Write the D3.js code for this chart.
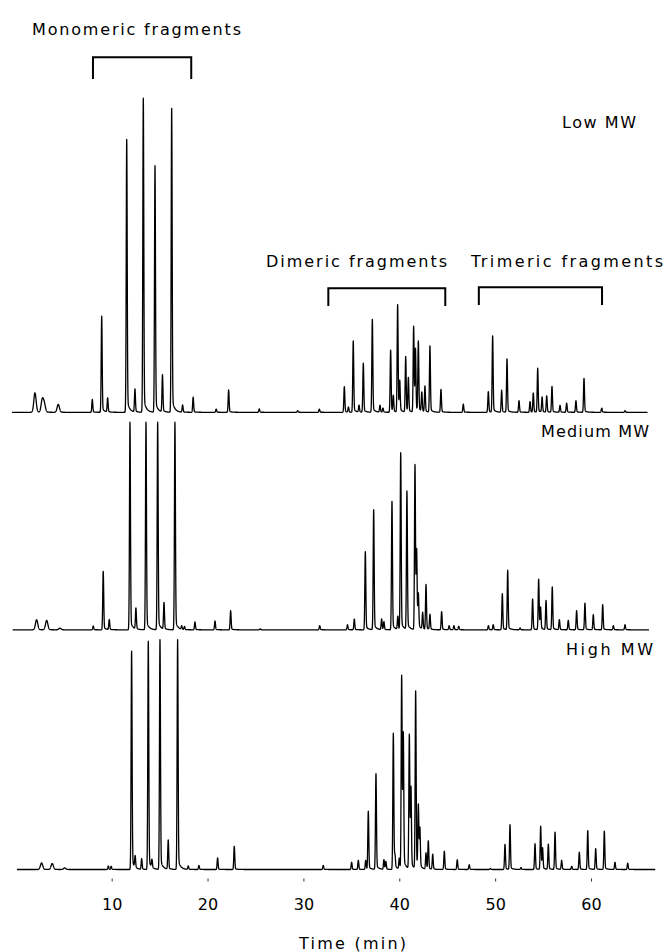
<!DOCTYPE html>
<html>
<head>
<meta charset="utf-8">
<script src="https://cdn.jsdelivr.net/npm/d3@7"></script>
<style>
  body { margin: 0; background: #fff; }
  text { font-family: "DejaVu Sans", sans-serif; fill: #000; }
</style>
</head>
<body>
<script>
//chromatogram peaks: retention time (min) and relative height (% of tallest)
var lowTimes = [2.0, 2.76, 2.97, 4.43, 7.98, 8.96, 9.58, 11.57, 12.43, 13.3, 14.52, 15.3, 16.26, 17.4, 18.5,
    20.9, 22.2, 25.4, 29.4, 31.66, 34.27, 34.7, 35.2, 35.8, 36.25, 37.19, 37.99, 38.3, 39.1, 39.38, 39.83,
    40.05, 40.67, 40.95, 41.5, 41.69, 41.99, 42.35, 42.68, 43.2, 44.35, 46.68, 49.29, 49.74, 50.68, 51.24,
    52.49, 53.64, 53.98, 54.44, 54.9, 55.38, 55.93, 56.77, 57.46, 58.43, 59.27, 61.12, 63.55];
var lowHeights = [6.2, 3.9, 2.6, 2.5, 4.1, 30.6, 4.5, 86.9, 7.3, 100, 78.5, 11.8, 96.8, 2.3, 4.8,
    1.0, 7.1, 1.1, 0.5, 1.0, 8.2, 1.6, 22.7, 2.2, 15.6, 29.6, 2.2, 1.3, 19.8, 5.1, 34.2,
    9.5, 17.7, 10.8, 27.3, 19.7, 22.2, 6.1, 8.2, 21.1, 7.3, 2.6, 6.6, 24.3, 7.0, 17.0,
    3.7, 3.4, 6.1, 14.0, 4.8, 5.2, 8.2, 2.2, 2.9, 3.7, 10.8, 1.3, 0.5];

var mediumTimes = [2.17, 3.22, 4.6, 8.08, 9.12, 9.75, 11.91, 12.53, 13.58, 14.8, 15.46, 16.6, 17.3, 17.6,
    18.69, 20.78, 22.41, 25.5, 31.7, 34.6, 35.31, 36.46, 37.33, 38.16, 38.4, 39.24, 39.85, 40.15, 40.8,
    41.64, 41.81, 41.99, 42.44, 42.79, 43.2, 44.42, 45.2, 45.7, 46.2, 49.3, 49.8, 50.75, 51.31, 52.6,
    53.91, 54.54, 54.74, 55.31, 55.96, 56.7, 57.63, 58.5, 59.37, 60.24, 61.22, 62.33, 63.55];
var mediumHeights = [3.2, 3.0, 0.5, 1.2, 18.6, 3.2, 66.1, 6.7, 66.1, 66.1, 8.5, 66.1, 1.1, 1.0,
    2.5, 2.8, 6.1, 0.3, 1.3, 1.6, 3.4, 24.9, 38.2, 3.4, 2.5, 40.9, 4.2, 56.3, 44.0,
    52.5, 24.4, 10.5, 5.3, 14.3, 4.8, 5.8, 1.3, 1.3, 1.1, 1.3, 1.6, 11.5, 18.9, 0.6,
    9.8, 16.1, 6.9, 9.3, 13.6, 3.2, 3.0, 6.1, 8.5, 4.8, 8.0, 1.3, 1.6];

var highTimes = [2.69, 3.8, 5.1, 9.65, 9.95, 12.08, 12.45, 13.13, 13.82, 14.2, 15.04, 15.9, 16.88, 17.99,
    19.1, 21.05, 22.79, 32.07, 35.03, 35.73, 36.5, 36.77, 37.57, 38.4, 38.6, 39.38, 39.55, 40.0, 40.25,
    40.42, 41.05, 41.22, 41.71, 41.99, 42.15, 42.79, 43.03, 43.49, 44.7, 46.05, 47.3, 49.5, 51.03, 51.55,
    52.7, 54.16, 54.75, 54.95, 55.55, 56.25, 56.94, 57.99, 58.78, 59.66, 60.49, 61.39, 62.5, 63.83];
var highHeights = [2.1, 1.9, 0.5, 1.1, 1.0, 69.5, 3.7, 3.4, 72.7, 2.5, 73.2, 9.3, 73.2, 1.1,
    1.3, 3.7, 7.4, 1.3, 2.3, 2.9, 2.9, 18.5, 30.5, 3.1, 2.5, 43.4, 3.8, 3.4, 61.6,
    42.1, 42.7, 25.2, 56.5, 19.8, 12.4, 5.2, 9.0, 4.8, 5.8, 3.1, 1.5, 0.3, 8.0, 14.2,
    0.6, 8.2, 13.8, 6.6, 8.0, 11.9, 2.9, 1.0, 5.5, 12.4, 6.6, 12.2, 2.3, 2.0];

//run span of each trace (min)
var traceNames = ["Low MW", "Medium MW", "High MW"];
var traceStart = [-0.4, -0.33, 0.12];
var traceEnd = [65.9, 66.05, 66.7];

//fragment groups
var groupNames = ["Monomeric fragments", "Dimeric fragments", "Trimeric fragments"];
var groupStart = [8.05, 32.6, 48.3];
var groupEnd = [18.3, 44.8, 61.15];

var tickValues = [10, 20, 30, 40, 50, 60];

//set up the figure
var width = 665,
    height = 952;

var svg = d3.select("body")
    .append("svg")
    .attr("width", width)
    .attr("height", height);

var x = d3.scaleLinear()
    .domain([0, 60])
    .range([15.8, 591]);

//baseline of each trace on the page
var baselines = [412.3, 629.8, 869.5];
var unit = 3.14; //px per percent

var traces = [
    {times: lowTimes, heights: lowHeights},
    {times: mediumTimes, heights: mediumHeights},
    {times: highTimes, heights: highHeights}
];

//one peak: gaussian front, small exponential tail
function peak(dt, h, t0){
    var s = t0 < 6 ? 0.12 : 0.05;
    var g = Math.exp(-dt * dt / (2 * s * s));
    if (dt <= 0) return h * g;
    return h * (0.95 * g + 0.05 * Math.exp(-dt / 0.25));
}

function sampleTrace(tr, i){
    var pts = [];
    for (var t = traceStart[i]; t <= traceEnd[i]; t += 0.01){
        var v = 0;
        for (var k = 0; k < tr.times.length; k++){
            var dt = t - tr.times[k];
            if (dt > -1 && dt < 3) v += peak(dt, tr.heights[k], tr.times[k]);
        }
        pts.push([t, v]);
    }
    return pts;
}

traces.forEach(function(tr, i){
    var y = d3.scaleLinear()
        .domain([0, 100])
        .range([baselines[i], baselines[i] - 100 * unit]);

    var line = d3.line()
        .x(function(d){ return x(d[0]); })
        .y(function(d){ return y(d[1]); });

    svg.append("path")
        .datum(sampleTrace(tr, i))
        .attr("class", "trace")
        .attr("fill", "none")
        .attr("stroke", "#000")
        .attr("stroke-width", 1.3)
        .attr("stroke-linejoin", "round")
        .attr("d", line);
});

//trace labels
var traceLabelPos = [[562, 128, 74], [541, 437, 108], [566, 655, 87]];
svg.selectAll(".traceLabel")
    .data(traceNames)
    .enter()
    .append("text")
    .attr("class", "traceLabel")
    .attr("x", function(d, i){ return traceLabelPos[i][0]; })
    .attr("y", function(d, i){ return traceLabelPos[i][1]; })
    .attr("textLength", function(d, i){ return traceLabelPos[i][2]; })
    .attr("lengthAdjust", "spacing")
    .style("font-size", "16px")
    .text(function(d){ return d; });

//fragment brackets
var bracketY = [[57.3, 79], [288.3, 306], [287.3, 305]];
svg.selectAll(".bracket")
    .data(groupNames)
    .enter()
    .append("path")
    .attr("class", "bracket")
    .attr("fill", "none")
    .attr("stroke", "#000")
    .attr("stroke-width", 2)
    .attr("d", function(d, i){
        var x0 = x(groupStart[i]), x1 = x(groupEnd[i]);
        return "M" + x0 + "," + bracketY[i][1] + "V" + bracketY[i][0] +
            "H" + x1 + "V" + bracketY[i][1];
    });

var groupLabelPos = [[32, 35, 209], [266, 267, 181], [471, 267, 192]];
svg.selectAll(".groupLabel")
    .data(groupNames)
    .enter()
    .append("text")
    .attr("class", "groupLabel")
    .attr("x", function(d, i){ return groupLabelPos[i][0]; })
    .attr("y", function(d, i){ return groupLabelPos[i][1]; })
    .attr("textLength", function(d, i){ return groupLabelPos[i][2]; })
    .attr("lengthAdjust", "spacing")
    .style("font-size", "16px")
    .text(function(d){ return d; });

//time axis
var axis = svg.append("g")
    .attr("transform", "translate(0,878.5)")
    .call(d3.axisBottom(x)
        .tickValues(tickValues)
        .tickSize(3)
        .tickPadding(17)
        .tickFormat(d3.format("d")));
axis.select(".domain").remove();
axis.selectAll(".tick line").attr("stroke", "#333");
axis.selectAll(".tick text")
    .style("font-family", "'DejaVu Sans', sans-serif")
    .style("font-size", "16px")
    .attr("fill", "#000");

svg.append("text")
    .attr("x", 299)
    .attr("y", 949)
    .attr("textLength", 107)
    .attr("lengthAdjust", "spacing")
    .style("font-size", "16px")
    .text("Time (min)");
</script>
</body>
</html>
